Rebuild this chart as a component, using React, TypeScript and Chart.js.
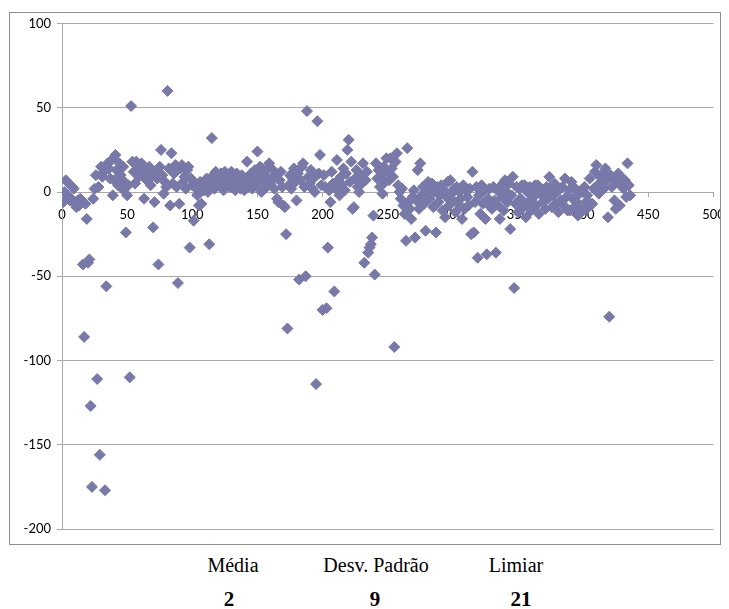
import React, { useEffect, useRef } from "react";
import { Chart, registerables } from "chart.js";

Chart.register(...registerables);

// x positions start at 1 and increase by 1 for each value
const xStart = 1;
const values: number[] = [
  -6, 0, 7, 6, -3, -5, -4, 3, 2, -7,
  -9, -5, -8, -4, -6, -43, -86, -7, -16, -42,
  -40, -127, -175, -4, 2, 10, -111, 3, -156, 15,
  9, 12, -177, -56, 17, 14, 8, 19, -2, 7,
  22, 13, 4, 17, 10, 2, 15, 6, -24, -2,
  4, -110, 51, 18, 12, 5, 18, 16, 9, 14,
  17, 11, -4, 13, 7, 11, 15, 4, 9, -21,
  -6, 12, 8, -43, 15, 25, 10, -1, 6, 3,
  60, 14, -8, 23, 5, 11, 16, 3, -54, -7,
  14, 16, 6, 9, 2, 13, 15, -33, 8, 4,
  -17, 5, 2, -2, -8, 6, -7, 3, 1, 5,
  8, 0, -31, 5, 32, 10, 2, 12, 6, 9,
  4, 11, 7, 1, 12, 5, 8, 10, 3, 12,
  6, 9, 1, 11, 4, 7, 2, 10, 5, 1,
  8, 18, 3, 6, 11, 2, 8, 13, 4, 24,
  9, 15, 0, 12, 6, 10, 3, 14, 17, 5,
  8, 13, 2, 10, -4, -6, 7, 12, 3, -8,
  -9, -25, -81, 4, 10, 2, 8, 14, 6, -5,
  11, -52, 7, 15, 17, 3, -50, 48, 9, 5,
  13, 2, 8, 0, -114, 42, 11, 22, 4, -70,
  10, 3, -69, -33, 1, -6, 12, 5, -59, 2,
  19, 7, -2, 9, 4, 14, 1, 11, 25, 31,
  6, 18, -10, -9, 8, 13, 3, 0, 10, 5,
  17, -42, 7, 12, -36, -33, -31, -27, -14, -49,
  17, 8, 13, 3, 10, -1, 15, 6, 20, 12,
  7, 20, 14, 9, -92, 18, 23, 4, 0, -4,
  2, -8, -13, -29, 26, -6, -10, -16, -3, 1,
  -27, -5, 13, -10, 17, -2, 3, -7, -23, 1,
  6, -4, 2, 5, -9, 0, -24, 3, -6, -2,
  4, -11, 1, -15, -3, 6, -8, 7, -1, -5,
  2, -12, 3, -7, 0, -4, -16, 4, -10, 1,
  -3, -8, 2, -25, 12, -24, -6, 3, -39, -2,
  -13, 4, -7, 1, -16, -37, -4, 2, -9, -10,
  3, -5, -36, 1, -8, -16, 4, -3, -11, 7,
  0, -6, 5, -22, -2, 9, -57, -7, 3, -12,
  2, -4, 4, -9, 4, -15, 0, -6, 3, -11,
  1, -3, 4, -8, 4, -13, -1, 2, -6, -2,
  -10, 3, -4, 9, 1, -9, -2, 5, -7, 0,
  -12, 2, -5, 3, -8, 8, -3, -11, 1, -11,
  6, -4, -9, 2, -6, -14, -1, -10, 0, -11,
  3, -6, -2, -9, 8, -7, -7, 2, 12, 16,
  4, -1, 9, 6, 11, 2, 14, 7, -15, -74,
  10, 3, 8, -5, -10, 6, 11, -8, 4, 8,
  2, 7, -3, 17, 4, -2,
];

const xMin = 0;
const xMax = 500;
const xStep = 50;
const yMin = -200;
const yMax = 100;
const yStep = 50;

const statLabels = ["Média", "Desv. Padrão", "Limiar"];
const statValues = ["2", "9", "21"];

const labelCenters = [233, 376, 516];
const valueCenters = [229, 375, 521];

const markerColor = "#7878A9";
const gridColor = "#A8A8A8";
const tickFont = { family: "Lato, 'Open Sans', sans-serif", size: 13 };

export default function App() {
  const canvasRef = useRef<HTMLCanvasElement | null>(null);

  useEffect(() => {
    const canvas = canvasRef.current;
    if (!canvas) return;
    const points = values.map((v, i) => ({ x: xStart + i, y: v }));
    const chart = new Chart(canvas, {
      type: "scatter",
      data: {
        datasets: [
          {
            data: points,
            pointStyle: "rectRot",
            pointRadius: 5.5,
            pointBackgroundColor: markerColor,
            pointBorderColor: markerColor,
            pointBorderWidth: 1,
            showLine: false,
          },
        ],
      },
      options: {
        animation: false,
        responsive: false,
        maintainAspectRatio: false,
        layout: { padding: { top: 10.5, right: 6.5, bottom: 15, left: 0 } },
        plugins: {
          legend: { display: false },
          tooltip: { enabled: false },
        },
        scales: {
          x: {
            type: "linear",
            position: { y: 0 } as any,
            min: xMin,
            max: xMax,
            ticks: {
              stepSize: xStep,
              font: tickFont,
              color: "#000",
              padding: 11,
              maxRotation: 0,
              autoSkip: false,
            },
            grid: {
              drawOnChartArea: false,
              drawTicks: true,
              tickLength: 4,
              color: gridColor,
            },
            border: { color: gridColor, width: 1 },
            afterFit: (s: any) => {
              s.height = 0;
              s.paddingLeft = 0;
              s.paddingRight = 0;
            },
          },
          y: {
            type: "linear",
            position: "left",
            min: yMin,
            max: yMax,
            ticks: {
              stepSize: yStep,
              font: tickFont,
              color: "#000",
              padding: 6,
            },
            grid: {
              color: gridColor,
              tickLength: 5,
              drawTicks: true,
            },
            border: { color: gridColor, width: 1 },
            afterFit: (s: any) => {
              s.width = 52;
              s.paddingTop = 0;
              s.paddingBottom = 0;
            },
          },
        },
      },
    });
    return () => chart.destroy();
  }, []);

  const serif = "'Liberation Serif', 'Times New Roman', serif";

  return (
    <div style={{ position: "relative", width: 721, height: 601 }}>
      <div
        style={{
          position: "absolute",
          left: 1,
          top: 4,
          width: 712,
          height: 533,
          border: "1px solid #8E8E8E",
          boxSizing: "border-box",
          background: "#fff",
        }}
      >
        <canvas
          ref={canvasRef}
          width={710}
          height={531}
          style={{ display: "block", width: 710, height: 531 }}
        />
      </div>
      {statLabels.map((t, i) => (
        <span
          key={"l" + i}
          style={{
            position: "absolute",
            left: labelCenters[i] - 8,
            top: 555 - 8,
            transform: "translateX(-50%)",
            fontFamily: serif,
            fontSize: 20,
            lineHeight: "20px",
            whiteSpace: "nowrap",
            color: "#000",
          }}
        >
          {t}
        </span>
      ))}
      {statValues.map((t, i) => (
        <span
          key={"v" + i}
          style={{
            position: "absolute",
            left: valueCenters[i] - 8,
            top: 589 - 8,
            transform: "translateX(-50%)",
            fontFamily: serif,
            fontSize: 21,
            fontWeight: "bold",
            lineHeight: "21px",
            whiteSpace: "nowrap",
            color: "#000",
          }}
        >
          {t}
        </span>
      ))}
    </div>
  );
}
